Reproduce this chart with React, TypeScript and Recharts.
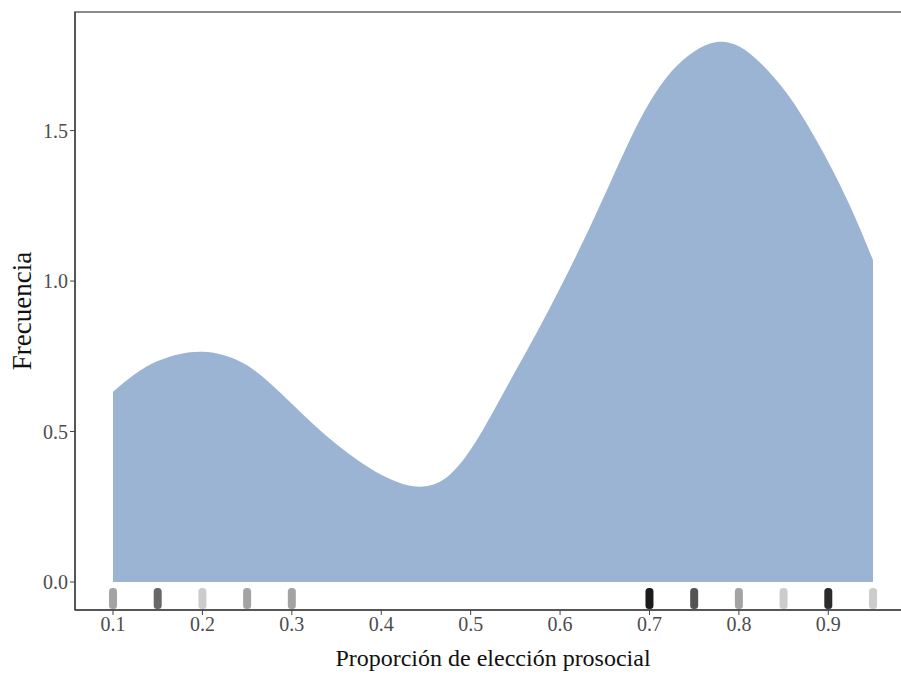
import {
  ComposedChart,
  Area,
  Scatter,
  XAxis,
  YAxis,
  ReferenceArea,
} from 'recharts';

// density curve
const densityX = [
  0.1, 0.125, 0.15, 0.175, 0.2, 0.225, 0.25, 0.275, 0.3, 0.325, 0.35, 0.375, 0.4, 0.425,
  0.45, 0.475, 0.5, 0.525, 0.55, 0.575, 0.6, 0.625, 0.65, 0.675, 0.7, 0.725, 0.75,
  0.775, 0.8, 0.825, 0.85, 0.875, 0.9, 0.925, 0.95,
];
const densityY = [
  0.632, 0.692, 0.734, 0.758, 0.765, 0.753, 0.72, 0.662, 0.592, 0.522, 0.458, 0.402, 0.356,
  0.325, 0.318, 0.352, 0.44, 0.565, 0.7, 0.835, 0.977, 1.127, 1.287, 1.45, 1.593,
  1.698, 1.763, 1.794, 1.78, 1.722, 1.638, 1.528, 1.396, 1.245, 1.07,
];

// rug: observed proportions and how many observations sit on each
const rugX = [0.1, 0.15, 0.2, 0.25, 0.3, 0.7, 0.75, 0.8, 0.85, 0.9, 0.95];
const rugCount = [2, 4, 1, 2, 2, 10, 5, 2, 1, 8, 1];

const xTicks = [0.1, 0.2, 0.3, 0.4, 0.5, 0.6, 0.7, 0.8, 0.9];
const yTicks = [0, 0.5, 1.0, 1.5];

const X_DOMAIN: [number, number] = [0.0575, 0.9925];
const Y_DOMAIN: [number, number] = [-0.093, 1.894];
const RUG_Y = -0.055;

const densityData = densityX.map((x, i) => ({ x, density: densityY[i] }));
const rugData = rugX.map((x, i) => ({ x, y: RUG_Y, n: rugCount[i] }));

const FONT = '"Liberation Serif", "DejaVu Serif", serif';
const AXIS_COLOR = '#444';

function RugMark(props: any) {
  const { cx, cy, payload } = props;
  const opacity = 1 - Math.pow(0.8, payload.n);
  return (
    <rect
      x={cx - 4}
      y={cy - 10.5}
      width={8}
      height={21}
      rx={3.5}
      fill="#000"
      fillOpacity={opacity}
    />
  );
}

export default function App() {
  return (
    <div style={{ position: 'absolute', left: 0, top: 0, width: 901, height: 675, overflow: 'hidden', background: '#fff' }}>
      <ComposedChart
        width={911}
        height={675}
        margin={{ top: 12, right: 0, left: 0, bottom: 0 }}
      >
        <XAxis
          type="number"
          dataKey="x"
          domain={X_DOMAIN}
          ticks={xTicks}
          allowDataOverflow
          tickFormatter={(v) => v.toFixed(1)}
          tick={{ fontSize: 20, fill: '#4d4d4d', fontFamily: FONT }}
          tickSize={5}
          tickLine={{ stroke: AXIS_COLOR }}
          axisLine={{ stroke: AXIS_COLOR, strokeWidth: 1.5 }}
          height={65}
          label={{
            value: 'Proporción de elección prosocial',
            position: 'insideBottom',
            offset: 9,
            fontSize: 24,
            fill: '#111',
            fontFamily: FONT,
          }}
        />
        <YAxis
          type="number"
          domain={Y_DOMAIN}
          ticks={yTicks}
          allowDataOverflow
          tickFormatter={(v) => v.toFixed(1)}
          tick={{ fontSize: 20, fill: '#4d4d4d', fontFamily: FONT }}
          tickSize={5}
          tickLine={{ stroke: AXIS_COLOR }}
          axisLine={{ stroke: AXIS_COLOR, strokeWidth: 1.5 }}
          width={75}
          label={{
            value: 'Frecuencia',
            angle: -90,
            position: 'insideLeft',
            offset: 21,
            fontSize: 27,
            fill: '#111',
            fontFamily: FONT,
            style: { textAnchor: 'middle' },
          }}
        />
        <ReferenceArea
          x1={X_DOMAIN[0]}
          x2={X_DOMAIN[1]}
          y1={Y_DOMAIN[0]}
          y2={Y_DOMAIN[1]}
          fill="none"
          stroke="#666"
          strokeWidth={1.5}
          ifOverflow="visible"
        />
        <Area
          data={densityData}
          type="natural"
          dataKey="density"
          baseValue={0}
          fill="#9cb4d4"
          fillOpacity={1}
          stroke="none"
          isAnimationActive={false}
        />
        <Scatter
          data={rugData}
          dataKey="y"
          shape={RugMark}
          isAnimationActive={false}
        />
      </ComposedChart>
    </div>
  );
}
